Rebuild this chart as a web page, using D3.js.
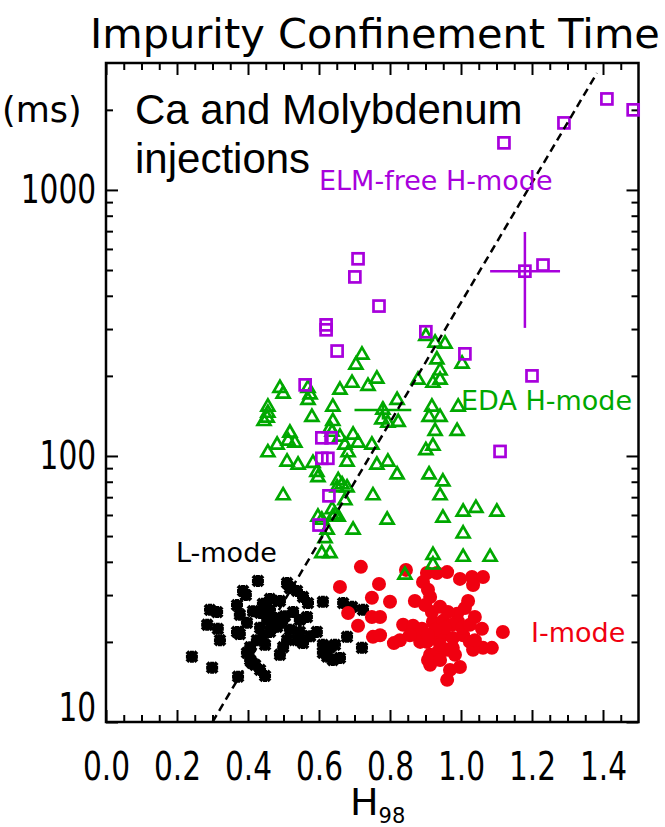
<!DOCTYPE html>
<html>
<head>
<meta charset="utf-8">
<script src="https://cdn.jsdelivr.net/npm/d3@7"></script>
<style>
  body { margin: 0; background: #fff; }
  text { font-family: "DejaVu Sans", sans-serif; }
</style>
</head>
<body>
<svg id="chart" width="665" height="827"></svg>
<script>
// H98 vs impurity confinement time (ms)
const lMode = [
  [0.242,17.6],[0.299,16.0],[0.293,26.4],[0.313,25.9],[0.285,23.2],[0.315,22.4],[0.321,20.3],
  [0.372,14.8],[0.369,27.5],[0.386,31.1],[0.394,30.0],[0.428,33.9],[0.414,26.1],[0.434,25.7],
  [0.454,24.2],[0.397,23.6],[0.377,21.4],[0.406,19.1],[0.397,18.2],[0.411,16.7],[0.434,15.7],
  [0.448,14.9],[0.442,27.8],[0.462,29.0],[0.490,28.5],[0.510,33.3],[0.518,31.9],[0.538,31.1],
  [0.555,29.5],[0.569,28.0],[0.566,24.8],[0.546,24.2],[0.527,25.9],[0.496,23.6],[0.482,22.8],
  [0.462,21.8],[0.442,20.9],[0.425,20.3],[0.470,22.8],[0.499,19.1],[0.510,20.3],[0.538,20.3],
  [0.555,19.8],[0.575,21.0],[0.594,21.8],[0.611,28.3],[0.668,28.0],[0.693,27.1],[0.724,26.4],
  [0.679,20.9],[0.721,19.0],[0.611,19.5],[0.631,19.1],[0.645,19.5],[0.611,18.2],[0.623,17.6],
  [0.639,17.1],[0.659,17.4],[0.406,17.1],[0.420,16.4],[0.369,21.8],[0.462,26.4],[0.476,24.6],
  [0.504,25.0],[0.434,22.6],[0.448,19.5],[0.377,25.3],[0.490,17.9],[0.518,22.2],[0.546,21.8]
];

const iMode = [
  [0.718,38.3],[0.659,32.2],[0.769,33.0],[0.845,37.3],[0.749,29.3],[0.800,28.3],[0.682,25.7],
  [0.749,24.8],[0.772,24.8],[0.710,23.0],[0.752,20.9],[0.772,21.2],[0.811,19.8],[0.870,28.5],
  [0.893,33.6],[0.904,36.3],[0.932,36.3],[0.961,36.6],[0.913,29.5],[0.907,31.4],[0.997,34.5],
  [1.031,35.1],[1.062,35.1],[1.034,32.7],[1.020,28.5],[1.011,26.8],[0.941,27.1],[0.989,25.5],
  [0.992,23.8],[0.921,23.8],[0.949,24.0],[0.975,23.2],[1.039,24.8],[1.059,22.4],[1.118,21.8],
  [0.837,23.2],[0.865,23.0],[0.890,22.4],[0.876,21.2],[0.885,20.0],[0.904,20.0],[0.921,20.7],
  [0.949,21.2],[0.977,20.7],[1.006,21.2],[1.025,20.0],[1.062,19.0],[1.087,19.0],[1.034,18.7],
  [0.828,20.3],[0.913,17.9],[0.935,18.3],[0.961,18.7],[0.977,19.0],[0.913,16.4],[0.907,17.1],
  [0.969,15.7],[0.997,16.1],[0.961,14.4],[0.918,25.9],[0.899,27.5],[0.941,19.5],[0.955,22.6],
  [0.856,21.2],[1.003,22.6],[1.025,23.2],[0.963,25.9],[0.927,22.2],[0.907,21.2],[1.039,20.3],
  [0.983,17.9],[0.941,17.1]
];

const edaHMode = [
  [0.927,266],[0.955,264],[0.721,240],[0.704,220],[0.932,230],[1.003,222],[0.941,209],
  [0.879,193],[0.921,188],[0.941,193],[0.763,195],[0.738,183],[0.693,188],[0.659,177],
  [0.490,180],[0.499,171],[0.569,180],[0.575,170],[0.569,162],[0.820,162],[0.992,153],
  [0.918,153],[0.910,140],[0.941,140],[0.639,153],[0.456,153],[0.456,145],[0.454,139],
  [0.445,135],[0.580,140],[0.777,137],[0.794,133],[0.823,134],[0.639,135],[0.631,127],
  [0.637,123],[0.927,124],[0.989,124],[0.518,122],[0.513,114],[0.532,112],[0.482,110],
  [0.659,118],[0.673,110],[0.696,120],[0.710,112],[0.749,110],[0.921,109],[0.901,105],
  [0.456,103],[0.510,95],[0.541,92.5],[0.583,94],[0.594,87],[0.597,83],[0.682,103],
  [0.679,95],[0.763,92.5],[0.794,95],[0.820,85],[0.910,85],[0.949,80],[0.654,81],
  [0.665,78],[0.651,76],[0.679,76],[0.673,68],[0.499,71],[0.752,71],[0.941,71],
  [0.637,63],[0.645,60],[0.639,59],[0.654,59],[0.597,59],[0.608,57.5],[0.792,57.5],
  [0.949,58.5],[1.006,61.6],[1.042,63.7],[1.101,61.6],[0.696,52.7],[0.623,52.7],[0.617,49],
  [1.006,51],[0.608,43],[0.631,43],[0.921,42.4],[1.006,41.7],[1.082,41.7],[0.921,39],
  [0.842,35.7],[0.901,282],[0.780,149]
];

const elmFreeHMode = [
  [1.121,1503],[1.290,1786],[1.411,2198],[1.485,2000],[1.180,495],[1.231,522],[0.710,551],
  [0.701,471],[0.769,366],[0.620,311],[0.620,298],[0.651,248],[0.901,293],[1.011,242],
  [1.200,200],[0.561,185],[0.608,117],[0.634,117],[0.608,98],[0.625,98],[0.628,70.8],
  [0.600,55],[1.110,104]
];

// error bars: [H, tau, Hlow, Hhigh, tauLow, tauHigh]
const edaError = [0.780, 149, 0.70, 0.86, 137, 160];
const elmError = [1.180, 495, 1.082, 1.279, 303, 695];

// dashed scaling line
const fitLine = [[0.3, 10], [1.383, 2750]];

const xMajorTicks = [0.0, 0.2, 0.4, 0.6, 0.8, 1.0, 1.2, 1.4];
const xMinorTicks = [0.05,0.1,0.15,0.25,0.3,0.35,0.45,0.5,0.55,0.65,0.7,0.75,0.85,0.9,0.95,
                     1.05,1.1,1.15,1.25,1.3,1.35,1.45];
const yMajorTicks = [10, 100, 1000];
const yMinorTicks = [20,30,40,50,60,70,80,90,200,300,400,500,600,700,800,900,2000];

const purple = "#a800dc", green = "#00a800", red = "#f00010";

const svg = d3.select("#chart");
const m = { left: 106, right: 638.5, top: 63, bottom: 722 };

const x = d3.scaleLinear().domain([0, 1.5]).range([m.left, m.right]);
const y = d3.scaleLog().domain([10, 3000]).range([m.bottom, m.top]);

// title
svg.append("text")
  .attr("x", 90).attr("y", 48)
  .style("font-size", "41.5px")
  .text("Impurity Confinement Time");

// axes, ticks pointing inward on all four sides
function styleAxis(g) {
  g.select(".domain").remove();
  g.selectAll("line").attr("stroke", "#000").attr("stroke-width", 2);
}

svg.append("g").attr("transform", `translate(0,${m.bottom})`)
  .call(d3.axisBottom(x).tickValues(xMajorTicks).tickSize(-12).tickPadding(30)
    .tickFormat(d3.format(".1f")))
  .call(styleAxis)
  .call(g => g.selectAll("text")
    .attr("fill", "#000")
    .style("font-size", "39px")
    .style("font-family", "DejaVu Sans")
    .attr("transform", "scale(0.76,1)"));
svg.append("g").attr("transform", `translate(0,${m.bottom})`)
  .call(d3.axisBottom(x).tickValues(xMinorTicks).tickSize(-7).tickFormat(""))
  .call(styleAxis);
svg.append("g").attr("transform", `translate(0,${m.top})`)
  .call(d3.axisTop(x).tickValues(xMajorTicks).tickSize(-12).tickFormat(""))
  .call(styleAxis);
svg.append("g").attr("transform", `translate(0,${m.top})`)
  .call(d3.axisTop(x).tickValues(xMinorTicks).tickSize(-7).tickFormat(""))
  .call(styleAxis);

svg.append("g").attr("transform", `translate(${m.left},0)`)
  .call(d3.axisLeft(y).tickValues(yMajorTicks).tickSize(-12).tickPadding(13)
    .tickFormat(d3.format("d")))
  .call(styleAxis)
  .call(g => g.selectAll("text")
    .attr("fill", "#000")
    .style("font-size", "39px")
    .style("font-family", "DejaVu Sans")
    .attr("transform", "scale(0.76,1)")
    .attr("dy", d => d === 10 ? "-0.05em" : "0.32em"));
svg.append("g").attr("transform", `translate(${m.left},0)`)
  .call(d3.axisLeft(y).tickValues(yMinorTicks).tickSize(-7).tickFormat(""))
  .call(styleAxis);
svg.append("g").attr("transform", `translate(${m.right},0)`)
  .call(d3.axisRight(y).tickValues(yMajorTicks).tickSize(-12).tickFormat(""))
  .call(styleAxis);
svg.append("g").attr("transform", `translate(${m.right},0)`)
  .call(d3.axisRight(y).tickValues(yMinorTicks).tickSize(-7).tickFormat(""))
  .call(styleAxis);

// frame
svg.append("rect")
  .attr("x", m.left).attr("y", m.top)
  .attr("width", m.right - m.left).attr("height", m.bottom - m.top)
  .attr("fill", "none").attr("stroke", "#000").attr("stroke-width", 2.5);

// units and axis title
svg.append("text")
  .attr("x", 2).attr("y", y(2000) + 12)
  .style("font-size", "35px")
  .text("(ms)");

const xTitle = svg.append("text")
  .attr("x", 350).attr("y", 815)
  .style("font-size", "38px");
xTitle.append("tspan").text("H");
xTitle.append("tspan").attr("dy", 8).style("font-size", "21px").text("98");

const plot = svg.append("g");

// L-mode: thick star markers
plot.append("g").selectAll("path")
  .data(lMode)
  .join("path")
    .attr("transform", d => `translate(${x(d[0])},${y(d[1])})`)
    .attr("d", "M-5,-5L5,5M-5,5L5,-5M-6,0H6M0,-6V6")
    .attr("stroke", "#000")
    .attr("stroke-width", 4);

// I-mode: filled circles
plot.append("g").selectAll("circle")
  .data(iMode)
  .join("circle")
    .attr("cx", d => x(d[0]))
    .attr("cy", d => y(d[1]))
    .attr("r", 7)
    .attr("fill", red);

// EDA H-mode: open triangles
const tri = d3.symbol().type(d3.symbolTriangle).size(72);
plot.append("g").selectAll("path")
  .data(edaHMode)
  .join("path")
    .attr("transform", d => `translate(${x(d[0])},${y(d[1])})`)
    .attr("d", tri)
    .attr("fill", "none")
    .attr("stroke", green)
    .attr("stroke-width", 2.7);

// ELM-free H-mode: open squares
plot.append("g").selectAll("rect")
  .data(elmFreeHMode)
  .join("rect")
    .attr("x", d => x(d[0]) - 5.5)
    .attr("y", d => y(d[1]) - 5.5)
    .attr("width", 11)
    .attr("height", 11)
    .attr("fill", "none")
    .attr("stroke", purple)
    .attr("stroke-width", 2.7);

// error bars
function errorBar(e, color) {
  const g = plot.append("g").attr("stroke", color).attr("stroke-width", 2.5);
  g.append("line")
    .attr("x1", x(e[2])).attr("x2", x(e[3]))
    .attr("y1", y(e[1])).attr("y2", y(e[1]));
  g.append("line")
    .attr("x1", x(e[0])).attr("x2", x(e[0]))
    .attr("y1", y(e[4])).attr("y2", y(e[5]));
}
errorBar(edaError, green);
errorBar(elmError, purple);

// dashed scaling line
plot.append("path")
  .datum(fitLine)
  .attr("d", d3.line().x(d => x(d[0])).y(d => y(d[1])))
  .attr("fill", "none")
  .attr("stroke", "#000")
  .attr("stroke-width", 2.5)
  .attr("stroke-dasharray", "8,5");

// labels
function label(txt, px, py, color) {
  svg.append("text")
    .attr("x", px).attr("y", py)
    .attr("fill", color)
    .style("font-size", "27px")
    .text(txt);
}
label("ELM-free H-mode", 319, 190, purple);
label("EDA H-mode", 461, 410, green);
label("L-mode", 176, 562, "#000");
label("I-mode", 531, 642, red);

svg.append("text")
  .attr("x", 135).attr("y", 124)
  .style("font-family", "'Liberation Sans', Arial, sans-serif")
  .style("font-size", "42px")
  .call(t => t.append("tspan").attr("x", 135).text("Ca and Molybdenum"))
  .call(t => t.append("tspan").attr("x", 135).attr("dy", 49).text("injections"));
</script>
</body>
</html>
